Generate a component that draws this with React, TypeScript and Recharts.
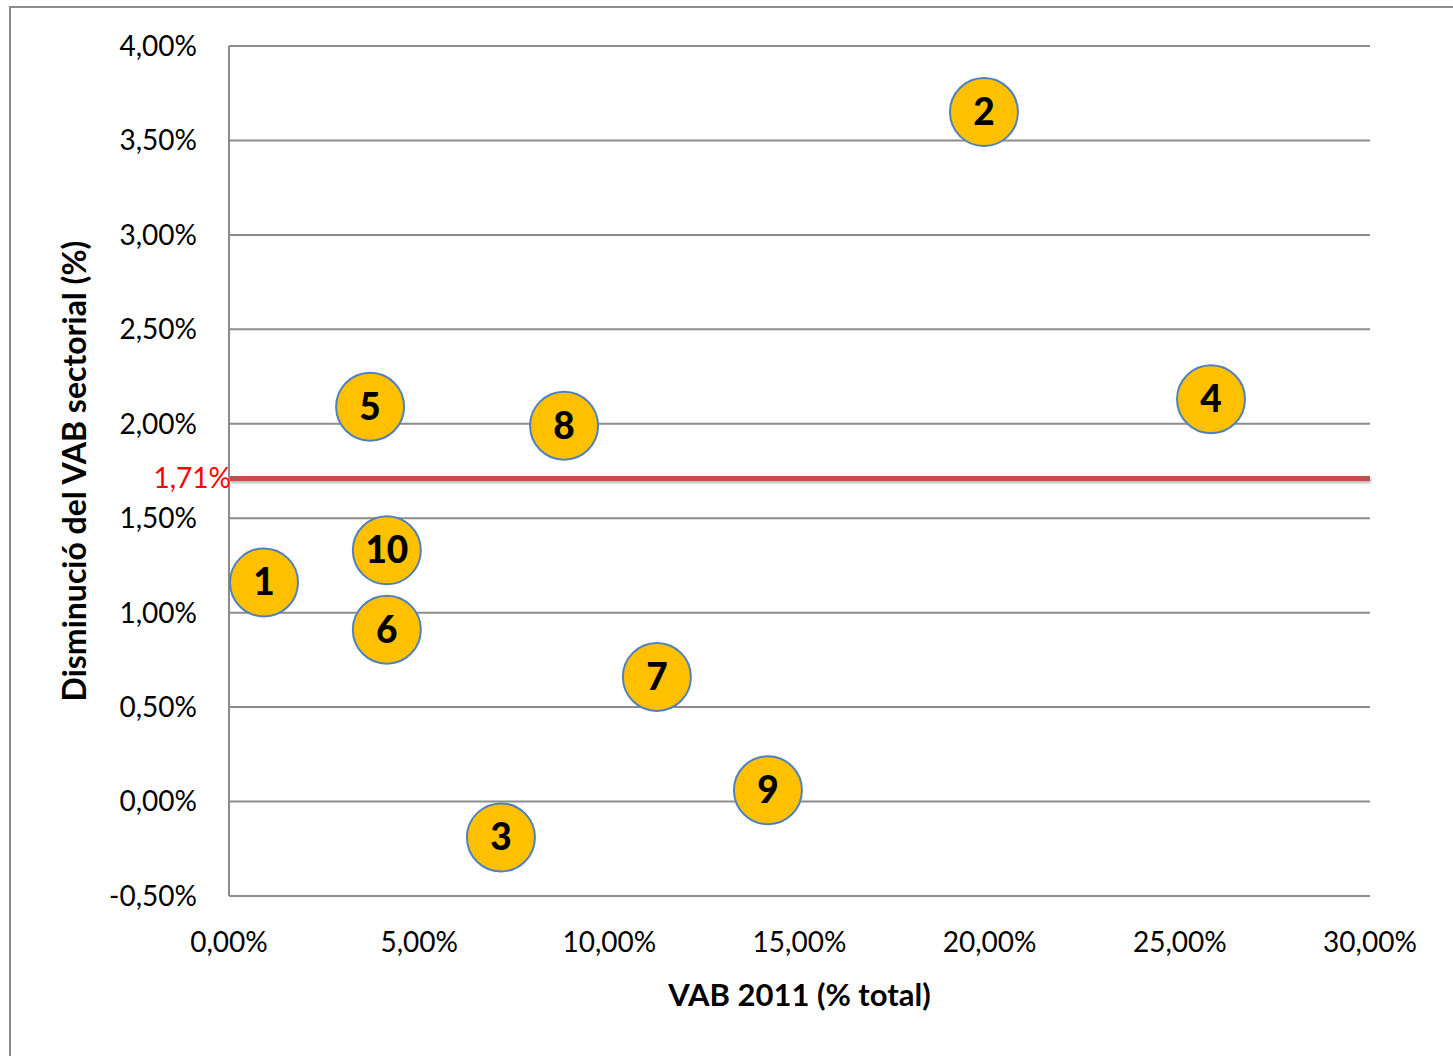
import { CartesianGrid, ReferenceLine, Scatter, ScatterChart, XAxis, YAxis } from "recharts"

const sectors = ["1", "2", "3", "4", "5", "6", "7", "8", "9", "10"]
const vab2011 = [0.92, 19.85, 7.15, 25.82, 3.71, 4.15, 11.25, 8.81, 14.17, 4.15]
const disminucio = [1.16, 3.65, -0.19, 2.13, 2.09, 0.91, 0.66, 1.99, 0.06, 1.33]
const xTicks = [0, 5, 10, 15, 20, 25, 30]
const yTicks = [-0.5, 0, 0.5, 1, 1.5, 2, 2.5, 3, 3.5, 4]
const mitjana = 1.71

const data = sectors.map((s, i) => ({ sector: s, x: vab2011[i], y: disminucio[i] }))

const font = "Lato, 'Open Sans', sans-serif"
const pct = (v: number) => `${v.toFixed(2).replace(".", ",")}%`

function Bubble(props: any) {
  const { cx, cy, payload } = props
  return (
    <g>
      <circle cx={cx} cy={cy} r={34} fill="#FFC000" stroke="#4F81BD" strokeWidth={2} />
      <text
        x={cx}
        y={cy}
        dy={13}
        textAnchor="middle"
        fontFamily={font}
        fontWeight={900}
        fontSize={37}
        fill="#000"
      >
        {payload.sector}
      </text>
    </g>
  )
}

export default function App() {
  return (
    <div style={{ position: "absolute", left: 0, top: 0, width: 1453, height: 1056, background: "#fff" }}>
      <ScatterChart
        width={1453}
        height={1056}
        margin={{ top: 46, right: 83, left: 69, bottom: 34 }}
      >
        <defs>
          <filter id="sombra" filterUnits="userSpaceOnUse" x="0" y="0" width="1453" height="1056">
            <feDropShadow dx="1" dy="2" stdDeviation="1.5" floodColor="#000" floodOpacity="0.3" />
          </filter>
        </defs>
        <CartesianGrid vertical={false} stroke="#8c8c8c" strokeWidth={2} />
        <XAxis
          type="number"
          dataKey="x"
          domain={[0, 30]}
          ticks={xTicks}
          tickFormatter={pct}
          axisLine={false}
          tickLine={false}
          tickSize={0}
          tickMargin={36}
          height={126}
          tick={{ fontSize: 28, fill: "#000", fontFamily: font }}
          label={{
            value: "VAB 2011 (% total)",
            position: "insideBottom",
            offset: 16,
            style: { fontSize: 31, fontWeight: 700, fill: "#000", fontFamily: font },
          }}
        />
        <YAxis
          type="number"
          dataKey="y"
          domain={[-0.5, 4]}
          ticks={yTicks}
          tickFormatter={pct}
          axisLine={{ stroke: "#8c8c8c", strokeWidth: 2 }}
          tickLine={false}
          tickSize={0}
          tickMargin={32}
          width={160}
          tick={{ fontSize: 28, fill: "#000", fontFamily: font }}
          label={{
            value: "Disminució del VAB sectorial (%)",
            angle: -90,
            position: "insideLeft",
            offset: 6,
            style: { textAnchor: "middle", fontSize: 32, fontWeight: 700, fill: "#000", fontFamily: font },
          }}
        />
        <ReferenceLine
          y={mitjana}
          stroke="#C0504D"
          strokeWidth={5}
          style={{ filter: "url(#sombra)" }}
          label={{
            value: "1,71%",
            position: "left",
            offset: -2,
            style: { fontSize: 28, fill: "#FF0000", fontFamily: font },
          }}
        />
        <Scatter data={data} shape={<Bubble />} isAnimationActive={false} />
      </ScatterChart>
      <div
        style={{
          position: "absolute",
          left: 9,
          top: 6,
          width: 1460,
          height: 1070,
          borderLeft: "2px solid #8c8c8c",
          borderTop: "2px solid #8c8c8c",
          pointerEvents: "none",
        }}
      />
    </div>
  )
}
